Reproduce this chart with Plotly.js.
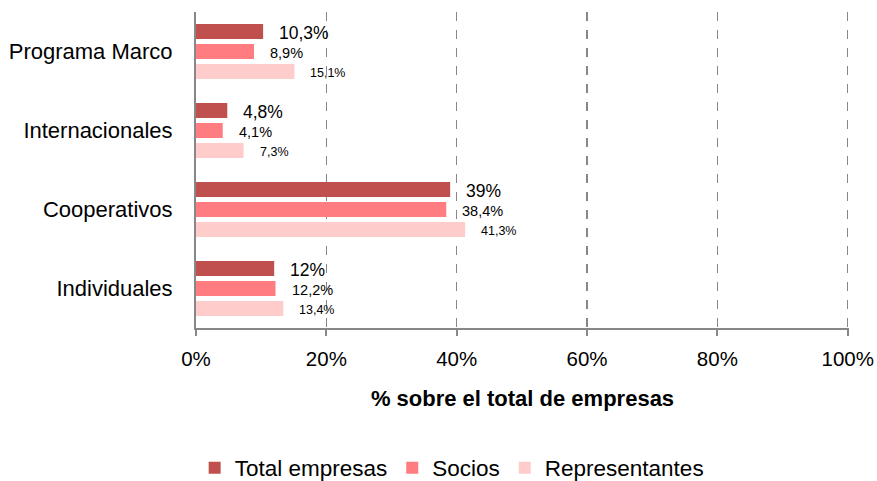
<!DOCTYPE html>
<html>
<head>
<meta charset="utf-8">
<script src="https://cdn.plot.ly/plotly-3.0.1.min.js"></script>
<style>html,body{margin:0;padding:0;background:#fff;}#chart{width:877px;height:481px;}</style>
</head>
<body>
<div id="chart"></div>
<script>
const categories = ["Programa Marco", "Internacionales", "Cooperativos", "Individuales"];
const seriesNames = ["Total empresas", "Socios", "Representantes"];
const totalEmpresas = [10.3, 4.8, 39, 12];
const socios = [8.9, 4.1, 38.4, 12.2];
const representantes = [15.1, 7.3, 41.3, 13.4];
const xTickVals = [0, 20, 40, 60, 80, 100];
const xTickText = ["0%", "20%", "40%", "60%", "80%", "100%"];

const FONT = "'Liberation Sans Narrow', 'Arial Narrow', 'Liberation Sans', Arial, sans-serif";
const colors = ["#C0504D", "#FF7C80", "#FFCCCC"];
const labelSizes = [17.5, 14.5, 12.5];
const yShifts = [20, 0, -20];
const seriesValues = [totalEmpresas, socios, representantes];

const fmt = v => String(v).replace('.', ',') + '%';

const traces = seriesValues.map((vals, i) => ({
  type: 'bar',
  orientation: 'h',
  name: seriesNames[i],
  x: vals,
  y: categories,
  marker: {color: colors[i]},
  hoverinfo: 'none'
}));

const annotations = [];
seriesValues.forEach((vals, i) => {
  vals.forEach((v, j) => {
    annotations.push({
      x: v, y: categories[j], xref: 'x', yref: 'y',
      text: fmt(v), showarrow: false,
      xanchor: 'left', yanchor: 'middle',
      xshift: 14, yshift: yShifts[i] - 1,
      font: {family: FONT, size: labelSizes[i], color: '#000'}
    });
  });
});

const layout = {
  width: 877, height: 481,
  margin: {l: 196, r: 28, t: 12, b: 153},
  paper_bgcolor: '#fff', plot_bgcolor: '#fff',
  font: {family: FONT, color: '#000', size: 21},
  barmode: 'group',
  bargap: 0.24,
  bargroupgap: 0.25,
  showlegend: true,
  legend: {
    orientation: 'h', xref: 'container', x: 0.515, xanchor: 'center',
    yref: 'container', y: 0.027, yanchor: 'middle',
    font: {family: FONT, size: 22.5, color: '#000'},
    itemclick: false, traceorder: 'normal'
  },
  xaxis: {
    range: [0, 100.2], tickvals: xTickVals, ticktext: xTickText,
    showgrid: true, gridcolor: '#878787', griddash: 'dash', gridwidth: 1.3,
    showline: true, linecolor: '#878787', linewidth: 2,
    ticks: 'outside', ticklen: 6, tickcolor: '#878787', tickwidth: 2,
    ticklabelstandoff: 5,
    tickfont: {family: FONT, size: 20.5, color: '#000'},
    zeroline: false, fixedrange: true,
    title: {text: '<b>% sobre el total de empresas</b>', font: {family: FONT, size: 22, color: '#000'}, standoff: 22}
  },
  yaxis: {
    type: 'category', autorange: 'reversed',
    showline: true, linecolor: '#878787', linewidth: 2,
    showgrid: false, zeroline: false, ticks: '',
    ticklabelstandoff: 17,
    tickfont: {family: FONT, size: 22, color: '#000'},
    fixedrange: true
  },
  annotations: annotations
};

Plotly.newPlot('chart', traces, layout, {displayModeBar: false, staticPlot: true});
</script>
</body>
</html>
